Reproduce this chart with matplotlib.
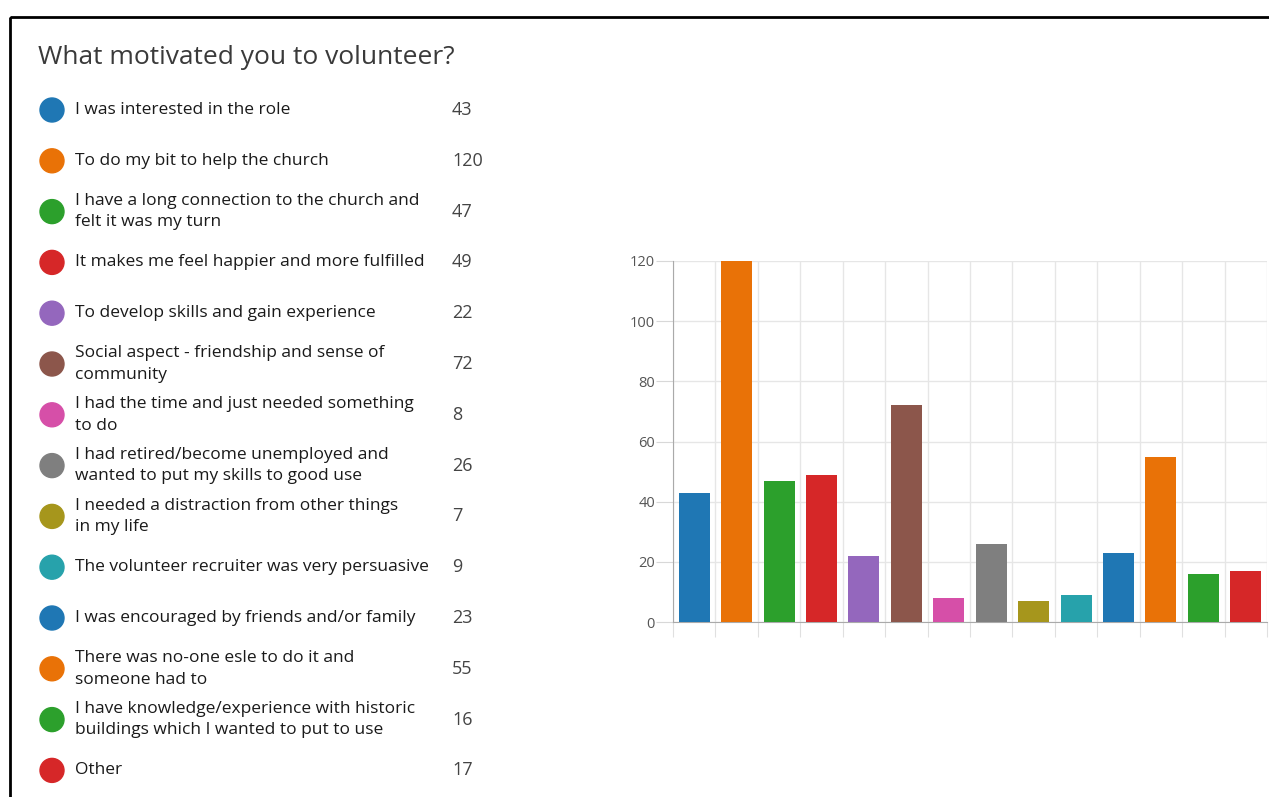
import numpy as np
import matplotlib.pyplot as plt
from matplotlib.patches import Circle, Rectangle

W, H = 1269, 797

title = "What motivated you to volunteer?"
labels = [
    "I was interested in the role",
    "To do my bit to help the church",
    "I have a long connection to the church and\nfelt it was my turn",
    "It makes me feel happier and more fulfilled",
    "To develop skills and gain experience",
    "Social aspect - friendship and sense of\ncommunity",
    "I had the time and just needed something\nto do",
    "I had retired/become unemployed and\nwanted to put my skills to good use",
    "I needed a distraction from other things\nin my life",
    "The volunteer recruiter was very persuasive",
    "I was encouraged by friends and/or family",
    "There was no-one esle to do it and\nsomeone had to",
    "I have knowledge/experience with historic\nbuildings which I wanted to put to use",
    "Other",
]
counts = [43, 120, 47, 49, 22, 72, 8, 26, 7, 9, 23, 55, 16, 17]
colors = ["#1f77b4", "#e97207", "#2ca02c", "#d62728", "#9467bd", "#8c564b", "#d64fa8",
          "#7f7f7f", "#a6961c", "#27a2ab", "#1f77b4", "#e97207", "#2ca02c", "#d62728"]
yticks = [0, 20, 40, 60, 80, 100, 120]

plt.rcParams['font.family'] = ['Open Sans', 'DejaVu Sans']

fig = plt.figure(figsize=(W / 100, H / 100), dpi=100)

# overlay in pixel coordinates for the legend list and the frame
ov = fig.add_axes([0, 0, 1, 1])
ov.set_xlim(0, W)
ov.set_ylim(H, 0)
ov.axis("off")

ov.add_patch(Rectangle((10, 17), W + 20, H, fill=False, ec="black", lw=2))
ov.text(38, 57, title, fontsize=19, color="#3a3a3a", va="center", ha="left")

for i, (lab, n, c) in enumerate(zip(labels, counts, colors)):
    y = 110 + i * 50.8
    ov.add_patch(Circle((52, y), 12, color=c))
    ov.text(75, y, lab, fontsize=12.5, color="#1a1a1a", va="center", ha="left",
            linespacing=1.45)
    ov.text(452, y, str(n), fontsize=13, color="#444444", va="center", ha="left")

# bar chart
ax = fig.add_axes([673 / W, (H - 622) / H, 594 / W, 361 / H])
x = np.arange(len(counts))
ax.bar(x, counts, width=0.73, color=colors, zorder=3)
ax.set_xlim(-0.5, len(counts) - 0.5)
ax.set_ylim(0, 120)
ax.set_yticks(yticks)
ax.set_xticks(np.arange(len(counts) + 1) - 0.5)
ax.set_xticklabels([])
ax.grid(True, color="#e6e6e6", lw=1, zorder=0)
ax.tick_params(axis="y", length=12, color="#d8d8d8", labelsize=10.5, labelcolor="#555555", pad=1)
ax.tick_params(axis="x", length=11, color="#e0e0e0", direction="out")
for s in ["top", "right"]:
    ax.spines[s].set_visible(False)
ax.spines["left"].set_color("#aaaaaa")
ax.spines["bottom"].set_color("#aaaaaa")

fig.savefig("out.png", dpi=100)
